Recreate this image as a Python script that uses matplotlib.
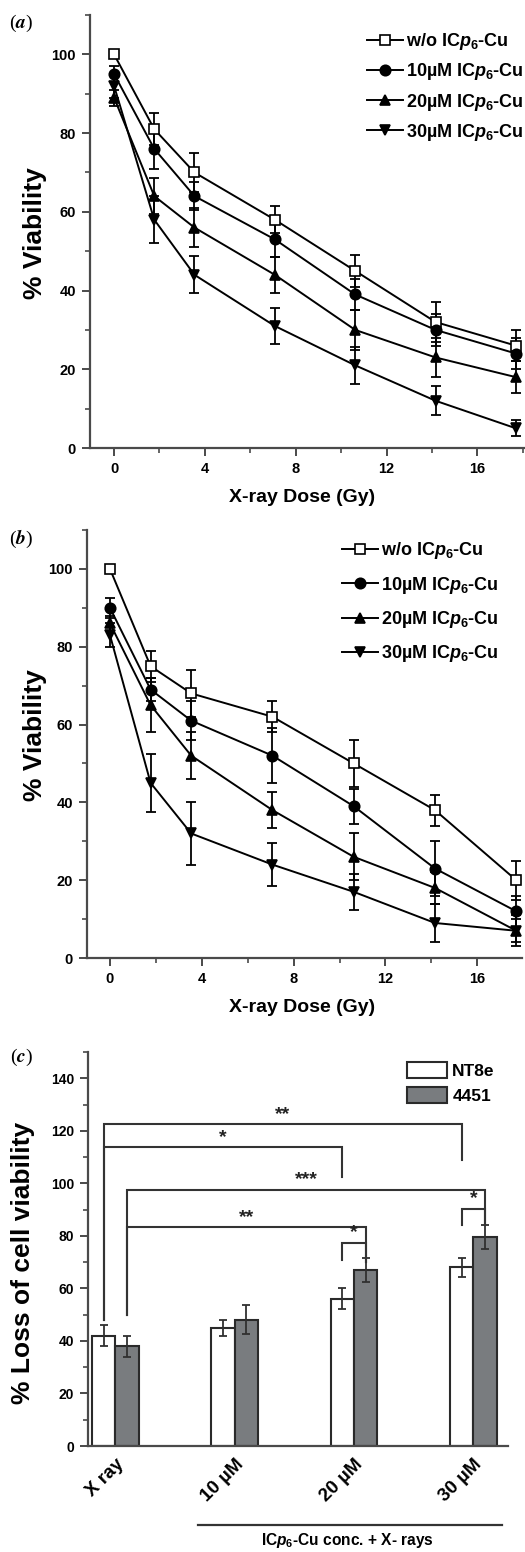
import numpy as np
import matplotlib
matplotlib.use('Agg')
import matplotlib.pyplot as plt
from matplotlib.ticker import MultipleLocator
from matplotlib.lines import Line2D

plt.rcParams['font.family'] = ['Liberation Sans', 'DejaVu Sans']
plt.rcParams['font.weight'] = 'bold'
plt.rcParams['mathtext.fontset'] = 'custom'
plt.rcParams['mathtext.rm'] = 'Liberation Sans:bold'
plt.rcParams['mathtext.it'] = 'Liberation Sans:italic:bold'
plt.rcParams['mathtext.bf'] = 'Liberation Sans:bold'

# ---- data ----
dose = [0, 1.77, 3.54, 7.08, 10.62, 14.16, 17.7]
series_labels = [r'w/o IC$\it{p}_{6}$-Cu', r'10µM IC$\it{p}_{6}$-Cu',
                 r'20µM IC$\it{p}_{6}$-Cu', r'30µM IC$\it{p}_{6}$-Cu']

# panel (a)
a_wo = [100, 81, 70, 58, 45, 32, 26]
a_wo_err = [1, 4, 5, 3.5, 4, 5, 4]
a_10 = [95, 76, 64, 53, 39, 30, 24]
a_10_err = [2, 5, 3.5, 4.5, 4, 4, 4]
a_20 = [89, 64, 56, 44, 30, 23, 18]
a_20_err = [2, 4.5, 5, 4.5, 5, 5, 4]
a_30 = [92, 58, 44, 31, 21, 12, 5]
a_30_err = [3, 6, 4.7, 4.5, 4.7, 3.7, 2]

# panel (b)
b_wo = [100, 75, 68, 62, 50, 38, 20]
b_wo_err = [1, 4, 6, 4, 6, 4, 5]
b_10 = [90, 69, 61, 52, 39, 23, 12]
b_10_err = [2.5, 3, 5, 7, 4.5, 7, 4]
b_20 = [86, 65, 52, 38, 26, 18, 7]
b_20_err = [2, 7, 6, 4.7, 6, 4, 4]
b_30 = [83, 45, 32, 24, 17, 9, 7]
b_30_err = [3, 7.5, 8, 5.5, 4.7, 5, 3]

# panel (c)
groups = ['X ray', '10 µM', '20 µM', '30 µM']
nt8e = [42, 45, 56, 68]
nt8e_err = [4, 3, 4, 3.5]
c4451 = [38, 48, 67, 79.5]
c4451_err = [4, 5.5, 4.5, 4.5]

# significance brackets: (label, (group, series) left, (group, series) right, top, left bottom, right bottom)
brackets = [
    ('**', (0, 0), (3, 0), 122.6, 48, 108.7),
    ('*', (0, 0), (2, 0), 113.8, 48, 102.6),
    ('***', (0, 1), (3, 1), 97.6, 50, 84),
    ('**', (0, 1), (2, 1), 83.4, 50, 70),
    ('*', (2, 0), (2, 1), 77.4, 70.7, 70),
    ('*', (3, 0), (3, 1), 90.4, 84, 84),
]

W, H = 525, 1552
fig = plt.figure(figsize=(W / 100, H / 100), dpi=100)


def px_axes(left, top, right, bottom):
    return fig.add_axes([left / W, 1 - bottom / H, (right - left) / W, (bottom - top) / H])


def style_axes(ax):
    ax.spines[['top', 'right']].set_visible(False)
    for s in ['left', 'bottom']:
        ax.spines[s].set_color('#4a4a4a')
        ax.spines[s].set_linewidth(1.6)
    ax.tick_params(which='major', direction='out', length=6, width=1.4,
                   color='#4a4a4a', labelsize=10.5, pad=4)
    ax.tick_params(which='minor', direction='out', length=3.5, width=1.2, color='#4a4a4a')


markers = ['s', 'o', '^', 'v']
faces = ['white', 'black', 'black', 'black']


def line_panel(ax, means, errs, xlim, leg_anchor, leg_spacing):
    for m, e in zip(means, errs):
        ax.errorbar(dose, m, yerr=e, fmt='none', ecolor='black', elinewidth=1.3,
                    capsize=3.5, capthick=1.3, clip_on=False)
    for m, lab, mk, fc in zip(means, series_labels, markers, faces):
        ax.plot(dose, m, marker=mk, ms=7.5, mfc=fc, mec='black', mew=1.2,
                color='black', lw=1.4, label=lab, clip_on=False, zorder=3)
    ax.set_xlim(*xlim)
    ax.set_ylim(0, 110)
    ax.set_xticks([0, 4, 8, 12, 16])
    ax.set_yticks([0, 20, 40, 60, 80, 100])
    ax.xaxis.set_minor_locator(MultipleLocator(2))
    ax.yaxis.set_minor_locator(MultipleLocator(10))
    style_axes(ax)
    ax.legend(loc='upper left', bbox_to_anchor=leg_anchor, frameon=False, fontsize=13,
              handlelength=2.0, handletextpad=0.15, labelspacing=leg_spacing,
              borderaxespad=0, borderpad=0)


ax_a = px_axes(90, 15, 525, 448)
line_panel(ax_a, [a_wo, a_10, a_20, a_30], [a_wo_err, a_10_err, a_20_err, a_30_err],
           (-1.06, 18.1), (0.637, 0.962), 0.5)

ax_b = px_axes(87, 530, 522, 958)
line_panel(ax_b, [b_wo, b_10, b_20, b_30], [b_wo_err, b_10_err, b_20_err, b_30_err],
           (-1.0, 17.95), (0.586, 0.976), 0.74)

# panel (c)
ax_c = px_axes(88, 1052, 508, 1446)
x = np.arange(len(groups))
w = 0.195
ekw = dict(ecolor='#303030', elinewidth=1.3, capsize=3, capthick=1.3)
ax_c.bar(x - w / 2, nt8e, w, yerr=nt8e_err, color='white', edgecolor='#2a2a2a',
         lw=1.5, error_kw=ekw, label='NT8e')
ax_c.bar(x + w / 2, c4451, w, yerr=c4451_err, color='#797c7f', edgecolor='#2a2a2a',
         lw=1.5, error_kw=ekw, label='4451')
ax_c.set_xlim(-0.23, 3.29)
ax_c.set_ylim(0, 150)
ax_c.set_yticks(range(0, 141, 20))
ax_c.yaxis.set_minor_locator(MultipleLocator(10))
style_axes(ax_c)
ax_c.tick_params(axis='y', labelsize=10)
ax_c.set_xticks(x)
ax_c.set_xticklabels(groups, rotation=45, ha='right', va='top', rotation_mode='anchor',
                     fontsize=13.5)
ax_c.tick_params(axis='x', length=0, pad=7)
ax_c.legend(loc='upper left', bbox_to_anchor=(0.76, 0.974), frameon=False, fontsize=12.5,
            handlelength=2.3, handleheight=1.05, handletextpad=0.3, labelspacing=0.45,
            borderaxespad=0, borderpad=0)

for lab, (g1, s1), (g2, s2), top, yb1, yb2 in brackets:
    x1 = x[g1] + (s1 - 0.5) * w
    x2 = x[g2] + (s2 - 0.5) * w
    ax_c.plot([x1, x1, x2, x2], [yb1, top, top, yb2], color='#333333', lw=1.5,
              solid_joinstyle='miter', clip_on=False)
    ax_c.text((x1 + x2) / 2, top + 0.5, lab, ha='center', va='bottom', fontsize=14,
              color='#222222')

# labels
fig.text(35 / W, 1 - 233 / H, '% Viability', rotation=90, ha='center', va='center', fontsize=19)
fig.text(35 / W, 1 - 735 / H, '% Viability', rotation=90, ha='center', va='center', fontsize=19)
fig.text(23 / W, 1 - 1263 / H, '% Loss of cell viability', rotation=90, ha='center',
         va='center', fontsize=19)
fig.text(302 / W, 1 - 498 / H, 'X-ray Dose (Gy)', ha='center', va='center', fontsize=14)
fig.text(302 / W, 1 - 1008 / H, 'X-ray Dose (Gy)', ha='center', va='center', fontsize=14)

for lab, yc in [('a', 23), ('b', 539), ('c', 1057)]:
    fig.text(21 / W, 1 - yc / H, r'($\it{' + lab + '}$)', ha='center', va='center',
             fontsize=14, fontweight='normal', family='Liberation Serif', math_fontfamily='stix')

fig.add_artist(Line2D([198 / W, 502 / W], [1 - 1525 / H, 1 - 1525 / H], color='#333333',
                      lw=1.6, transform=fig.transFigure))
fig.text(347 / W, 1 - 1541 / H, r'IC$\it{p}_{6}$-Cu conc. + X- rays', ha='center',
         va='center', fontsize=11.2)

fig.savefig('out.png', dpi=100)
